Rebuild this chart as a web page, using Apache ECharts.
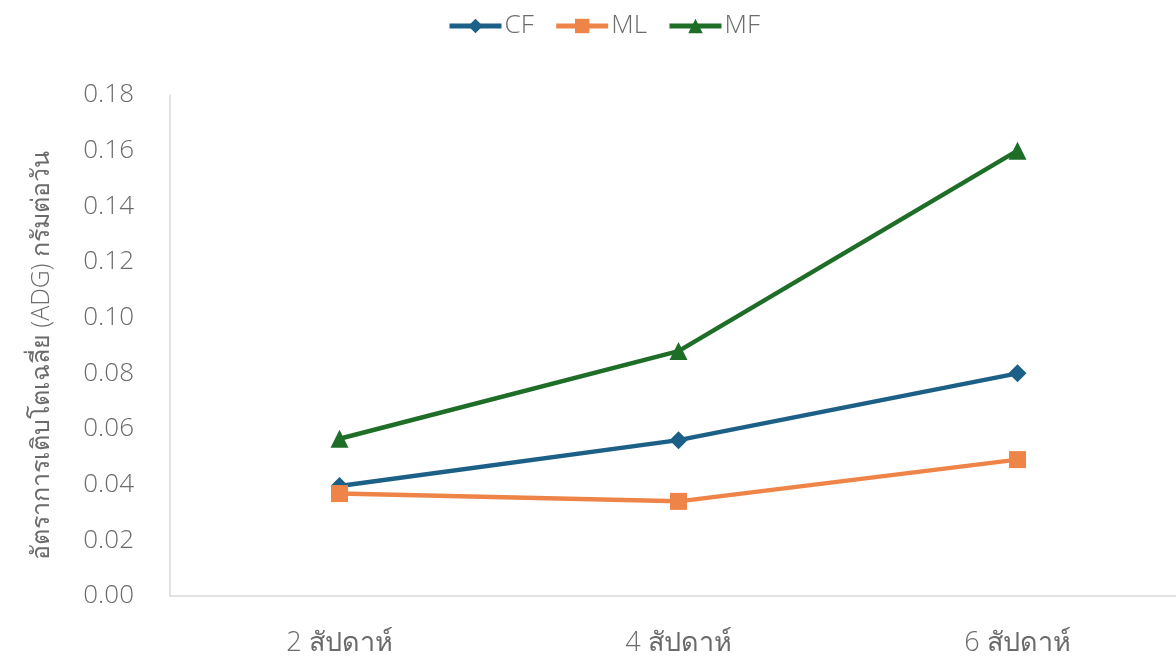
<!DOCTYPE html>
<html>
<head>
<meta charset="utf-8">
<script src="https://cdn.jsdelivr.net/npm/echarts@6/dist/echarts.min.js"></script>
<style>
html,body{margin:0;padding:0;background:#fff;overflow:hidden;}
/* plot area runs past the right edge of the window */
#chart{width:1187px;height:657px;}
</style>
</head>
<body>
<div id="chart"></div>
<script>
// Weekly average daily gain per feed group
const categories = ['2 สัปดาห์', '4 สัปดาห์', '6 สัปดาห์'];
const cfValues = [0.0395, 0.056, 0.080];
const mlValues = [0.0368, 0.034, 0.049];
const mfValues = [0.0565, 0.088, 0.160];
const yAxisTitle = 'อัตราการเติบโตเฉลี่ย (ADG) กรัมต่อวัน';

const fontFamily = '"Open Sans", "Noto Sans", "DejaVu Sans", sans-serif';
const textColor = '#6b6b6b';

const chart = echarts.init(document.getElementById('chart'));
chart.setOption({
  animation: false,
  backgroundColor: '#fff',
  legend: {
    top: 8,
    left: 442,
    itemWidth: 52,
    itemHeight: 18,
    itemGap: 20,
    lineStyle: { width: 5 },
    textStyle: { color: textColor, fontSize: 26, fontWeight: 300, fontFamily: fontFamily, padding: [0, 0, 0, -2] },
    data: ['CF', 'ML', 'MF']
  },
  grid: { left: 170, top: 95, right: 0, bottom: 61, containLabel: false },
  xAxis: {
    type: 'category',
    data: categories,
    axisLine: { lineStyle: { color: '#d9d9d9', width: 1.5 } },
    axisTick: { show: false },
    axisLabel: { color: textColor, fontSize: 27, fontWeight: 300, fontFamily: fontFamily, margin: 34 }
  },
  yAxis: {
    type: 'value',
    min: 0,
    max: 0.18,
    interval: 0.02,
    name: yAxisTitle,
    nameLocation: 'middle',
    nameGap: 116,
    nameTextStyle: { color: textColor, fontSize: 25, fontWeight: 300, fontFamily: fontFamily, padding: [0, 20, 0, 0] },
    axisLine: { show: true, lineStyle: { color: '#d9d9d9', width: 1.5 } },
    axisTick: { show: false },
    splitLine: { show: false },
    axisLabel: {
      color: textColor, fontSize: 26, fontWeight: 300, fontFamily: fontFamily, margin: 36,
      formatter: v => v.toFixed(2)
    }
  },
  series: [
    {
      name: 'CF', type: 'line', data: cfValues,
      symbol: 'diamond', symbolSize: 18,
      lineStyle: { color: '#1c6087', width: 4.5 },
      itemStyle: { color: '#1c6087' }
    },
    {
      name: 'ML', type: 'line', data: mlValues,
      symbol: 'rect', symbolSize: 17,
      lineStyle: { color: '#ee8447', width: 4.5 },
      itemStyle: { color: '#ee8447' }
    },
    {
      name: 'MF', type: 'line', data: mfValues,
      symbol: 'triangle', symbolSize: 18,
      lineStyle: { color: '#1e6e28', width: 4.5 },
      itemStyle: { color: '#1e6e28' }
    }
  ]
});
</script>
</body>
</html>
